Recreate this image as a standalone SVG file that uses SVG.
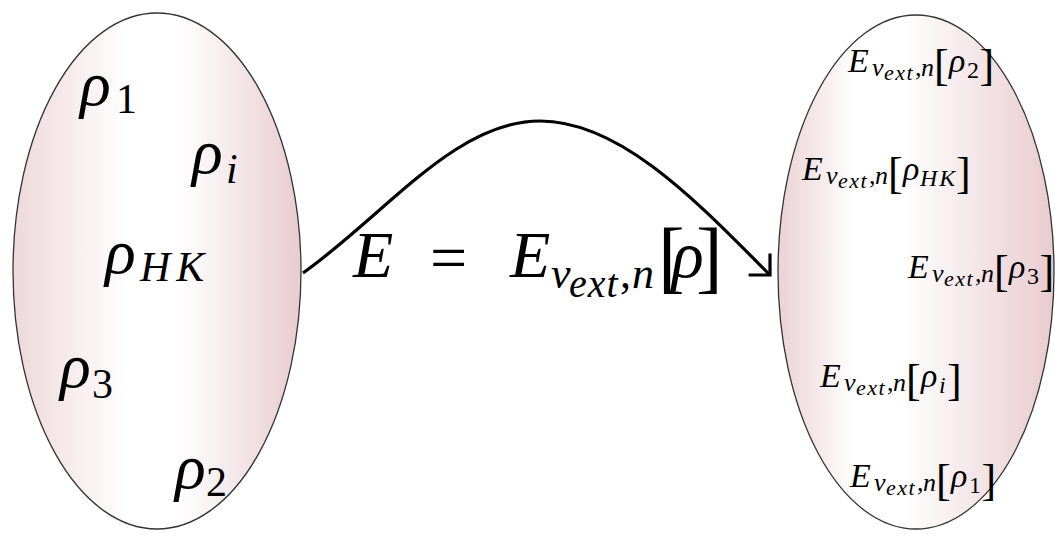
<svg xmlns="http://www.w3.org/2000/svg" width="1055" height="534" viewBox="0 0 1055 534">
<style>
.ell{stroke:#333;stroke-width:1.3}
.conn{fill:none;stroke:#000;stroke-width:3.2}
</style>
<defs>
<linearGradient id="gL" x1="0" y1="0" x2="1" y2="0">
<stop offset="0" stop-color="#eed8da"/>
<stop offset="0.4" stop-color="#ffffff"/>
<stop offset="0.58" stop-color="#ffffff"/>
<stop offset="1" stop-color="#e8ccd0"/>
</linearGradient>
<linearGradient id="gR" x1="0" y1="0" x2="1" y2="0">
<stop offset="0" stop-color="#ebd2d5"/>
<stop offset="0.28" stop-color="#ffffff"/>
<stop offset="0.45" stop-color="#ffffff"/>
<stop offset="1" stop-color="#e8cccf"/>
</linearGradient>
<marker id="arr" markerUnits="userSpaceOnUse" markerWidth="40" markerHeight="40" refX="20" refY="20" orient="auto" viewBox="0 0 40 40">
<path d="M6,6 L20,20 L6,34" fill="none" stroke="#000" stroke-width="3.2" stroke-linecap="square"/>
</marker>
</defs>

<g id="setDensities">
<ellipse class="ell" cx="157" cy="271" rx="144" ry="258" fill="url(#gL)"/>
<g id="rho1">
<text x="80" y="105" style="font-family:'Liberation Serif';font-size:64px;font-style:italic">ρ</text>
<text x="116" y="113" style="font-family:'Liberation Serif';font-size:42px">1</text>
</g>
<g id="rhoi">
<text x="192" y="173" style="font-family:'Liberation Serif';font-size:64px;font-style:italic">ρ</text>
<text x="226" y="183" style="font-family:'Liberation Serif';font-size:42px;font-style:italic">i</text>
</g>
<g id="rhoHK">
<text x="105" y="273" style="font-family:'Liberation Serif';font-size:64px;font-style:italic">ρ</text>
<text x="140" y="281" style="font-family:'Liberation Serif';font-size:42px;font-style:italic;letter-spacing:6px">HK</text>
</g>
<g id="rho3">
<text x="60" y="387" style="font-family:'Liberation Serif';font-size:64px;font-style:italic">ρ</text>
<text x="92" y="398" style="font-family:'Liberation Serif';font-size:42px">3</text>
</g>
<g id="rho2">
<text x="175" y="488" style="font-family:'Liberation Serif';font-size:64px;font-style:italic">ρ</text>
<text x="206" y="496" style="font-family:'Liberation Serif';font-size:42px">2</text>
</g>
</g>

<g id="setEnergies">
<ellipse class="ell" cx="916" cy="272" rx="138" ry="257" fill="url(#gR)"/>
<g id="E2">
<text x="848" y="72" style="font-family:'Liberation Serif';font-size:34px;font-style:italic">E</text>
<text x="872" y="76" style="font-family:'Liberation Serif';font-size:26px;font-style:italic">v</text>
<text x="884" y="80" style="font-family:'Liberation Serif';font-size:22px;font-style:italic;letter-spacing:1.5px">ext</text>
<text x="915" y="76" style="font-family:'Liberation Serif';font-size:26px">,</text>
<text x="921" y="76" style="font-family:'Liberation Serif';font-size:26px;font-style:italic">n</text>
<text x="934" y="80" style="font-family:'Liberation Serif';font-size:44px">[</text>
<text x="949" y="72" style="font-family:'Liberation Serif';font-size:34px;font-style:italic">ρ</text>
<text x="967" y="78" style="font-family:'Liberation Serif';font-size:24px">2</text>
<text x="979.5" y="80" style="font-family:'Liberation Serif';font-size:44px">]</text>
</g>
<g id="EHK">
<text x="802" y="180" style="font-family:'Liberation Serif';font-size:34px;font-style:italic">E</text>
<text x="826" y="184" style="font-family:'Liberation Serif';font-size:26px;font-style:italic">v</text>
<text x="838" y="188" style="font-family:'Liberation Serif';font-size:22px;font-style:italic;letter-spacing:1.5px">ext</text>
<text x="869" y="184" style="font-family:'Liberation Serif';font-size:26px">,</text>
<text x="875" y="184" style="font-family:'Liberation Serif';font-size:26px;font-style:italic">n</text>
<text x="888" y="188" style="font-family:'Liberation Serif';font-size:44px">[</text>
<text x="903" y="180" style="font-family:'Liberation Serif';font-size:34px;font-style:italic">ρ</text>
<text x="920" y="186" style="font-family:'Liberation Serif';font-size:24px;font-style:italic;letter-spacing:2px">HK</text>
<text x="956" y="188" style="font-family:'Liberation Serif';font-size:44px">]</text>
</g>
<g id="E3">
<text x="908" y="278" style="font-family:'Liberation Serif';font-size:34px;font-style:italic">E</text>
<text x="932" y="282" style="font-family:'Liberation Serif';font-size:26px;font-style:italic">v</text>
<text x="944" y="286" style="font-family:'Liberation Serif';font-size:22px;font-style:italic;letter-spacing:1.5px">ext</text>
<text x="975" y="282" style="font-family:'Liberation Serif';font-size:26px">,</text>
<text x="981" y="282" style="font-family:'Liberation Serif';font-size:26px;font-style:italic">n</text>
<text x="994" y="286" style="font-family:'Liberation Serif';font-size:44px">[</text>
<text x="1009" y="278" style="font-family:'Liberation Serif';font-size:34px;font-style:italic">ρ</text>
<text x="1027" y="284" style="font-family:'Liberation Serif';font-size:24px">3</text>
<text x="1039.5" y="286" style="font-family:'Liberation Serif';font-size:44px">]</text>
</g>
<g id="Ei">
<text x="820" y="387" style="font-family:'Liberation Serif';font-size:34px;font-style:italic">E</text>
<text x="844" y="391" style="font-family:'Liberation Serif';font-size:26px;font-style:italic">v</text>
<text x="856" y="395" style="font-family:'Liberation Serif';font-size:22px;font-style:italic;letter-spacing:1.5px">ext</text>
<text x="887" y="391" style="font-family:'Liberation Serif';font-size:26px">,</text>
<text x="893" y="391" style="font-family:'Liberation Serif';font-size:26px;font-style:italic">n</text>
<text x="906" y="395" style="font-family:'Liberation Serif';font-size:44px">[</text>
<text x="921" y="387" style="font-family:'Liberation Serif';font-size:34px;font-style:italic">ρ</text>
<text x="939" y="393" style="font-family:'Liberation Serif';font-size:24px;font-style:italic">i</text>
<text x="947" y="395" style="font-family:'Liberation Serif';font-size:44px">]</text>
</g>
<g id="E1">
<text x="850" y="487" style="font-family:'Liberation Serif';font-size:34px;font-style:italic">E</text>
<text x="874" y="491" style="font-family:'Liberation Serif';font-size:26px;font-style:italic">v</text>
<text x="886" y="495" style="font-family:'Liberation Serif';font-size:22px;font-style:italic;letter-spacing:1.5px">ext</text>
<text x="917" y="491" style="font-family:'Liberation Serif';font-size:26px">,</text>
<text x="923" y="491" style="font-family:'Liberation Serif';font-size:26px;font-style:italic">n</text>
<text x="936" y="495" style="font-family:'Liberation Serif';font-size:44px">[</text>
<text x="951" y="487" style="font-family:'Liberation Serif';font-size:34px;font-style:italic">ρ</text>
<text x="969" y="493" style="font-family:'Liberation Serif';font-size:24px">1</text>
<text x="981.5" y="495" style="font-family:'Liberation Serif';font-size:44px">]</text>
</g>
</g>

<g id="connectors">
<path class="conn" d="M303,273 C385,215 455,121 540,121 C622,121 700,205 770,275" marker-end="url(#arr)"/>
</g>

<g id="mapLabel">
<text x="353" y="277" style="font-family:'Liberation Serif';font-size:66px;font-style:italic">E</text>
<text x="430" y="280" style="font-family:'Liberation Serif';font-size:66px">=</text>
<text x="510" y="277" style="font-family:'Liberation Serif';font-size:66px;font-style:italic">E</text>
<text x="551" y="288" style="font-family:'Liberation Serif';font-size:44px;font-style:italic">v</text>
<text x="569" y="297" style="font-family:'Liberation Serif';font-size:40px;font-style:italic;letter-spacing:1px">ext</text>
<text x="620" y="288" style="font-family:'Liberation Serif';font-size:44px">,</text>
<text x="632" y="288" style="font-family:'Liberation Serif';font-size:44px;font-style:italic">n</text>
<text x="658" y="283" style="font-family:'Liberation Serif';font-size:80px">[</text>
<text x="672" y="277" style="font-family:'Liberation Serif';font-size:66px;font-style:italic">ρ</text>
<text x="696" y="283" style="font-family:'Liberation Serif';font-size:80px">]</text>
</g>
</svg>
